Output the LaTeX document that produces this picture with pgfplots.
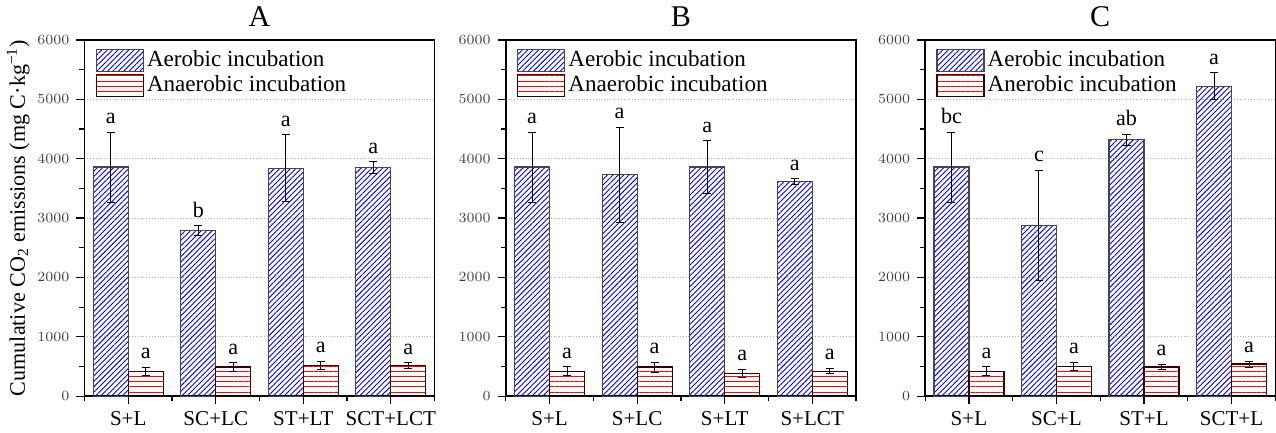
\documentclass[border=0pt]{standalone}
\usepackage{fontspec}
\setmainfont{Liberation Serif}
\usepackage{pgfplots}
\usepackage{pgfplotstable}
\pgfplotsset{compat=1.18}
\usetikzlibrary{patterns.meta}

% x, aerobic mean/sd/letter, anaerobic mean/sd/letter
\pgfplotstableread{
x aer aersd aerl ana anasd anal
0 3860 590 a  420 70 a
1 2790  80 b  490 70 a
2 3840 560 a  520 70 a
3 3850 100 a  510 50 a
}\dataA
\pgfplotstableread{
x aer aersd aerl ana anasd anal
0 3860 590 a  420 75 a
1 3730 800 a  490 85 a
2 3860 440 a  380 70 a
3 3610  50 a  420 45 a
}\dataB
\pgfplotstableread{
x aer aersd aerl ana anasd anal
0 3860 590 bc 420 75 a
1 2870 930 c  500 65 a
2 4320  90 ab 490 45 a
3 5220 230 a  540 50 a
}\dataC

\pgfplotsset{
  panel/.style={
    width=174.5pt, height=177.5pt, scale only axis,
    xmin=-0.5, xmax=3.5, ymin=0, ymax=6000,
    xtick={0,1,2,3}, minor xtick={-0.5,0.5,1.5,2.5,3.5},
    ytick={0,1000,...,6000}, minor ytick={500,1500,...,5500},
    tick align=outside, tick pos=left,
    major tick length=4pt, minor tick length=2.5pt,
    every tick/.style={black, line width=0.6pt},
    axis line style={line width=0.7pt},
    ymajorgrids, grid style={densely dotted, gray!60, line width=0.4pt},
    yticklabel style={font=\fontsize{7.5}{9}\selectfont, text=black!75,
      /pgf/number format/1000 sep={}},
    xticklabel style={font=\fontsize{10.5}{12}\selectfont},
    scaled y ticks=false,
    title style={font=\fontsize{15}{17}\selectfont, yshift=-3pt},
    legend style={draw=none, fill=none, at={(0.025,0.985)}, anchor=north west,
      font=\fontsize{11.5}{13}\selectfont, row sep=0pt, inner sep=1pt,
      cells={anchor=west}, nodes={inner sep=1.5pt}},
    legend image code/.code={\draw[#1] (0pt,-5.5pt) rectangle (23.5pt,5.5pt);},
    error bars/error bar style={black, line width=0.5pt},
    error bars/error mark options={rotate=90, black, mark size=2pt, line width=0.5pt},
  },
  aer/.style={ybar, bar width=0.4, bar shift=0, draw=gray!55!black, line width=0.6pt,
    pattern={Lines[angle=45, distance=1.9pt, line width=0.45pt]}, pattern color=blue,
    error bars/.cd, y dir=both, y explicit},
  ana/.style={ybar, bar width=0.4, bar shift=0, draw=black!80!red, line width=0.6pt,
    pattern={Lines[angle=0, distance=2.5pt, line width=0.45pt]}, pattern color=red,
    error bars/.cd, y dir=both, y explicit},
  letters/.style={draw=none, mark=none, forget plot, nodes near coords,
    point meta=explicit symbolic,
    nodes near coords style={font=\fontsize{11}{13}\selectfont, anchor=south,
      inner sep=2pt, yshift=2pt}},
}

\begin{document}
\begin{tikzpicture}
\begin{axis}[panel, at={(0pt,0pt)}, title={A},
  xticklabels={S+L, SC+LC, ST+LT, SCT+LCT},
  ylabel={Cumulative CO\textsubscript{2} emissions (mg C·kg\textsuperscript{−1})},
  ylabel style={font=\fontsize{11}{13}\selectfont, yshift=-3pt}]
  \addplot[aer] table[x expr=\thisrow{x}-0.2, y=aer, y error=aersd] {\dataA};
  \addlegendentry{Aerobic incubation}
  \addplot[ana] table[x expr=\thisrow{x}+0.2, y=ana, y error=anasd] {\dataA};
  \addlegendentry{Anaerobic incubation}
  \addplot[letters] table[x expr=\thisrow{x}-0.2, y expr=\thisrow{aer}+\thisrow{aersd}, meta=aerl] {\dataA};
  \addplot[letters] table[x expr=\thisrow{x}+0.2, y expr=\thisrow{ana}+\thisrow{anasd}, meta=anal] {\dataA};
\end{axis}

\begin{axis}[panel, at={(210pt,0pt)}, title={B},
  xticklabels={S+L, S+LC, S+LT, S+LCT}]
  \addplot[aer] table[x expr=\thisrow{x}-0.2, y=aer, y error=aersd] {\dataB};
  \addlegendentry{Aerobic incubation}
  \addplot[ana] table[x expr=\thisrow{x}+0.2, y=ana, y error=anasd] {\dataB};
  \addlegendentry{Anaerobic incubation}
  \addplot[letters] table[x expr=\thisrow{x}-0.2, y expr=\thisrow{aer}+\thisrow{aersd}, meta=aerl] {\dataB};
  \addplot[letters] table[x expr=\thisrow{x}+0.2, y expr=\thisrow{ana}+\thisrow{anasd}, meta=anal] {\dataB};
\end{axis}

\begin{axis}[panel, at={(419pt,0pt)}, title={C},
  xticklabels={S+L, SC+L, ST+L, SCT+L}]
  \addplot[aer] table[x expr=\thisrow{x}-0.2, y=aer, y error=aersd] {\dataC};
  \addlegendentry{Aerobic incubation}
  \addplot[ana] table[x expr=\thisrow{x}+0.2, y=ana, y error=anasd] {\dataC};
  \addlegendentry{Anerobic incubation}
  \addplot[letters] table[x expr=\thisrow{x}-0.2, y expr=\thisrow{aer}+\thisrow{aersd}, meta=aerl] {\dataC};
  \addplot[letters] table[x expr=\thisrow{x}+0.2, y expr=\thisrow{ana}+\thisrow{anasd}, meta=anal] {\dataC};
\end{axis}
\end{tikzpicture}
\end{document}
